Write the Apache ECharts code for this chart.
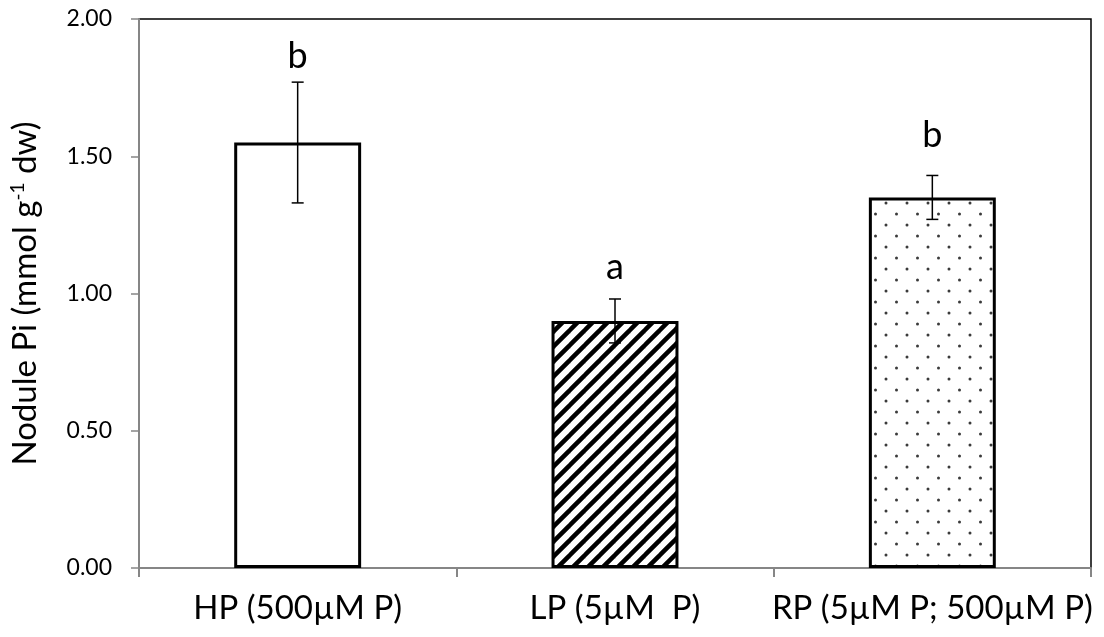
<!DOCTYPE html>
<html>
<head>
<meta charset="utf-8">
<script src="https://cdn.jsdelivr.net/npm/echarts@6/dist/echarts.min.js"></script>
<style>
  html, body { margin: 0; padding: 0; background: #fff; }
  #chart { width: 1104px; height: 637px; }
</style>
</head>
<body>
<div id="chart"></div>
<script>
// Nodule phosphate content under three phosphorus regimes
const categories = ['HP (500µM P)', 'LP (5µM  P)', 'RP (5µM P; 500µM P)'];
const means = [1.55, 0.90, 1.35];
const errors = [0.22, 0.08, 0.08];
const letters = ['b', 'a', 'b'];
const letterHeights = [1.80, 1.03, 1.51];
const yTicks = [0, 0.5, 1.0, 1.5, 2.0];

const FONT = 'Lato, "Open Sans", sans-serif';

// Fill patterns: plain, diagonal hatching, offset dots
function hatchPattern() {
  const s = 15;
  const c = document.createElement('canvas');
  c.width = s; c.height = s;
  const g = c.getContext('2d');
  g.fillStyle = '#fff';
  g.fillRect(0, 0, s, s);
  g.strokeStyle = '#000';
  g.lineWidth = 4.5;
  g.lineCap = 'square';
  for (const o of [-s, 0, s]) {
    g.beginPath();
    g.moveTo(o, s);
    g.lineTo(o + s, 0);
    g.stroke();
  }
  return c;
}
function dotPattern() {
  const w = 21, h = 22;
  const c = document.createElement('canvas');
  c.width = w; c.height = h;
  const g = c.getContext('2d');
  g.fillStyle = '#fff';
  g.fillRect(0, 0, w, h);
  g.fillStyle = '#3a3a3a';
  for (const [x, y] of [[4, 5], [14.5, 16]]) {
    g.beginPath();
    g.arc(x, y, 1.5, 0, Math.PI * 2);
    g.fill();
  }
  return c;
}
const fills = [
  '#ffffff',
  { image: hatchPattern(), repeat: 'repeat' },
  { image: dotPattern(), repeat: 'repeat' }
];

const chart = echarts.init(document.getElementById('chart'), null, { renderer: 'canvas' });

chart.setOption({
  animation: false,
  backgroundColor: '#fff',
  grid: {
    left: 137, right: 13, top: 19, bottom: 69,
    show: true, borderColor: '#000', borderWidth: 1.5, backgroundColor: 'transparent'
  },
  xAxis: {
    type: 'category',
    data: categories,
    axisLine: { lineStyle: { color: '#868686', width: 2 } },
    axisTick: { show: true, interval: 0, alignWithLabel: false, length: 9, lineStyle: { color: '#868686', width: 2 } },
    axisLabel: { color: '#000', fontFamily: FONT, fontSize: 33, margin: 24, interval: 0, hideOverlap: false },
    splitLine: { show: false }
  },
  yAxis: {
    type: 'value',
    min: yTicks[0], max: yTicks[yTicks.length - 1], interval: 0.5,
    axisLine: { show: true, lineStyle: { color: '#868686', width: 2 } },
    axisTick: { show: true, inside: false, length: 8, lineStyle: { color: '#868686', width: 1.5 } },
    axisLabel: { color: '#000', fontFamily: FONT, fontSize: 23, margin: 27, formatter: v => v.toFixed(2) },
    splitLine: { show: false },
    name: '{t|Nodule Pi (mmol g}{s|-1}{t| dw)}',
    nameLocation: 'middle',
    nameRotate: 90,
    nameGap: 97,
    nameTextStyle: {
      rich: {
        t: { fontFamily: FONT, fontSize: 33, color: '#000' },
        s: { fontFamily: FONT, fontSize: 19, color: '#000', verticalAlign: 'top', padding: [0, 0, 15, 0] }
      }
    }
  },
  series: [
    {
      type: 'bar',
      barWidth: '40%',
      data: means.map((v, i) => ({
        value: v,
        itemStyle: { color: fills[i], borderColor: '#000', borderWidth: 3 }
      })),
      z: 2
    },
    {
      // error bars
      type: 'custom',
      z: 3,
      data: means.map((v, i) => [i, v - errors[i], v + errors[i]]),
      renderItem: (params, api) => {
        const x = api.coord([api.value(0), 0])[0];
        const lo = api.coord([api.value(0), api.value(1)])[1];
        const hi = api.coord([api.value(0), api.value(2)])[1];
        const cap = 6;
        const style = { stroke: '#000', lineWidth: 1.5 };
        return {
          type: 'group',
          children: [
            { type: 'line', shape: { x1: x, y1: lo, x2: x, y2: hi }, style },
            { type: 'line', shape: { x1: x - cap, y1: hi, x2: x + cap, y2: hi }, style },
            { type: 'line', shape: { x1: x - cap, y1: lo, x2: x + cap, y2: lo }, style }
          ]
        };
      }
    },
    {
      // significance letters
      type: 'custom',
      z: 4,
      data: letters.map((l, i) => [i, letterHeights[i], l]),
      renderItem: (params, api) => {
        const p = api.coord([api.value(0), api.value(1)]);
        return {
          type: 'text',
          x: p[0], y: p[1],
          style: {
            text: letters[params.dataIndex],
            fontFamily: FONT, fontSize: 36, fill: '#000',
            align: 'center', verticalAlign: 'bottom'
          }
        };
      }
    }
  ]
});
</script>
</body>
</html>
